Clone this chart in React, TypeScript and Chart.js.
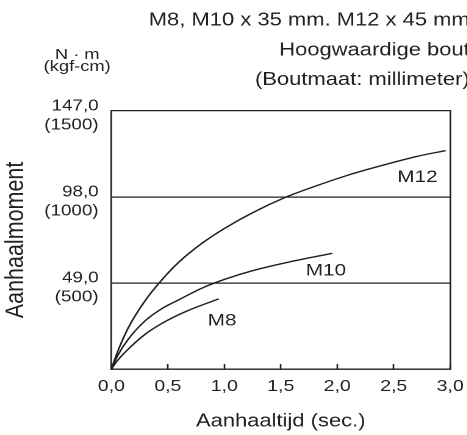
import React, { useEffect, useRef } from 'react';
import { Chart, registerables } from 'chart.js';

Chart.register(...registerables);

// ---- data ----
const titleLines = ['M8, M10 x 35 mm. M12 x 45 mm', 'Hoogwaardige bout', '(Boutmaat: millimeter)'];
const xAxisTitle = 'Aanhaaltijd (sec.)';
const yAxisTitle = 'Aanhaalmoment';
const unitLines = ['N · m', '(kgf-cm)'];

const xTickValues = [0, 0.5, 1, 1.5, 2, 2.5, 3];
const xTickLabels = ['0,0', '0,5', '1,0', '1,5', '2,0', '2,5', '3,0'];
const yTickValues = [0, 49, 98, 147];
const yTickLabels = ['', '49,0', '98,0', '147,0'];
const yTickSubLabels = ['', '(500)', '(1000)', '(1500)'];

const seriesNames = ['M12', 'M10', 'M8'];
const m12Time = [0, 0.05, 0.15, 0.3, 0.45, 0.6, 0.8, 1.0, 1.25, 1.55, 1.8, 2.1, 2.4, 2.7, 2.96];
const m12Torque = [0, 9, 23.5, 39, 51, 61, 71.5, 80, 89, 98, 104, 110.5, 116, 121, 124.4];
const m10Time = [0, 0.05, 0.15, 0.3, 0.45, 0.6, 0.8, 1.0, 1.25, 1.6, 1.956];
const m10Torque = [0, 7, 17, 27.5, 34.5, 39.5, 46, 51, 56, 61.3, 65.9];
const m8Time = [0, 0.05, 0.174, 0.3, 0.441, 0.6, 0.737, 0.951];
const m8Torque = [0, 4.5, 12.8, 19.8, 25.7, 31, 34.8, 39.9];

const labelTime = [2.71, 1.9, 0.98];
const labelTorque = [109.2, 56, 27.5];

// ---- layout helpers ----
const STRETCH = 1.22;
const LOGICAL_W = 385;
const LOGICAL_H = 435;
const INK = '#231f20';
const FONT = "'Liberation Sans', Arial, Helvetica, sans-serif";

const toPoints = (xs: number[], ys: number[]) => xs.map((x, i) => ({ x, y: ys[i] }));

const annotations = {
  id: 'annotations',
  afterDraw(chart: any) {
    const { ctx, scales, chartArea } = chart;
    const xs = scales.x;
    const ys = scales.y;
    ctx.save();
    ctx.fillStyle = INK;
    ctx.textAlign = 'center';
    ctx.textBaseline = 'middle';
    ctx.font = `17px ${FONT}`;
    seriesNames.forEach((name, i) => {
      ctx.fillText(name, xs.getPixelForValue(labelTime[i]), ys.getPixelForValue(labelTorque[i]));
    });
    ctx.font = `15px ${FONT}`;
    ctx.fillText(unitLines[0], chartArea.left - 28, chartArea.top - 56);
    ctx.fillText(unitLines[1], chartArea.left - 28, chartArea.top - 44);
    ctx.restore();
  },
};

function TorqueChart() {
  const canvasRef = useRef<HTMLCanvasElement | null>(null);

  useEffect(() => {
    if (!canvasRef.current) return;
    const lineStyle = {
      borderColor: INK,
      borderWidth: 1.4,
      pointRadius: 0,
      fill: false,
      cubicInterpolationMode: 'monotone' as const,
    };
    const chart = new Chart(canvasRef.current, {
      type: 'line',
      data: {
        datasets: [
          { label: seriesNames[0], data: toPoints(m12Time, m12Torque), ...lineStyle },
          { label: seriesNames[1], data: toPoints(m10Time, m10Torque), ...lineStyle },
          { label: seriesNames[2], data: toPoints(m8Time, m8Torque), ...lineStyle },
        ],
      },
      options: {
        animation: false,
        responsive: false,
        maintainAspectRatio: false,
        devicePixelRatio: 2,
        layout: { padding: 0 },
        events: [],
        plugins: {
          legend: { display: false },
          tooltip: { enabled: false },
          title: {
            display: true,
            text: titleLines,
            align: 'end',
            color: INK,
            font: { family: FONT, size: 18, weight: 'normal', lineHeight: 1.65 },
            padding: { top: 5.8, bottom: 16 },
          },
        },
        scales: {
          x: {
            type: 'linear',
            min: 0,
            max: 3,
            afterBuildTicks: (scale: any) => {
              scale.ticks = xTickValues.map((v) => ({ value: v }));
            },
            grid: {
              drawOnChartArea: false,
              drawTicks: true,
              tickLength: -5,
              tickColor: INK,
              tickWidth: 1.3,
            },
            border: { display: true, color: INK, width: 1.3 },
            ticks: {
              color: INK,
              padding: 2,
              maxRotation: 0,
              font: { family: FONT, size: 16, lineHeight: 2.59 },
              callback: (v: any) => {
                const i = xTickValues.indexOf(Number(v));
                return i >= 0 ? xTickLabels[i] : '';
              },
            },
            title: {
              display: true,
              text: xAxisTitle,
              color: INK,
              font: { family: FONT, size: 18, lineHeight: 1.2 },
              padding: { top: 1.5, bottom: 2.5 },
            },
          },
          y: {
            type: 'linear',
            min: 0,
            max: 147,
            afterBuildTicks: (scale: any) => {
              scale.ticks = yTickValues.map((v) => ({ value: v }));
            },
            grid: { color: INK, lineWidth: 1.3, drawTicks: false },
            border: { display: true, color: INK, width: 1.3 },
            ticks: {
              color: INK,
              padding: 10.5,
              labelOffset: 5,
              font: { family: FONT, size: 15.4, lineHeight: 1.234 },
              callback: (v: any) => {
                const i = yTickValues.indexOf(Number(v));
                if (i <= 0) return '';
                return [yTickLabels[i], yTickSubLabels[i]];
              },
            },
            title: {
              display: true,
              text: yAxisTitle,
              color: INK,
              font: { family: FONT, size: 21.5, lineHeight: 1.2 },
              padding: { top: 0, bottom: 0 },
            },
          },
          y2: {
            type: 'linear',
            position: 'right',
            display: true,
            grid: { display: false, drawTicks: false },
            ticks: { display: false },
            border: { display: true, color: INK, width: 1.3 },
            afterFit: (scale: any) => {
              scale.width = 16;
            },
          },
        },
      },
      plugins: [annotations],
    } as any);
    return () => chart.destroy();
  }, []);

  return (
    <div
      style={{
        position: 'absolute',
        left: 0,
        top: 0,
        width: 467,
        height: 435,
        overflow: 'hidden',
        background: '#fff',
      }}
    >
      <div
        style={{
          position: 'absolute',
          left: 0,
          top: 0,
          width: LOGICAL_W,
          height: LOGICAL_H,
          transform: `scaleX(${STRETCH})`,
          transformOrigin: '0 0',
        }}
      >
        <canvas ref={canvasRef} width={LOGICAL_W} height={LOGICAL_H} style={{ display: 'block' }} />
      </div>
    </div>
  );
}

export default function App() {
  return <TorqueChart />;
}
